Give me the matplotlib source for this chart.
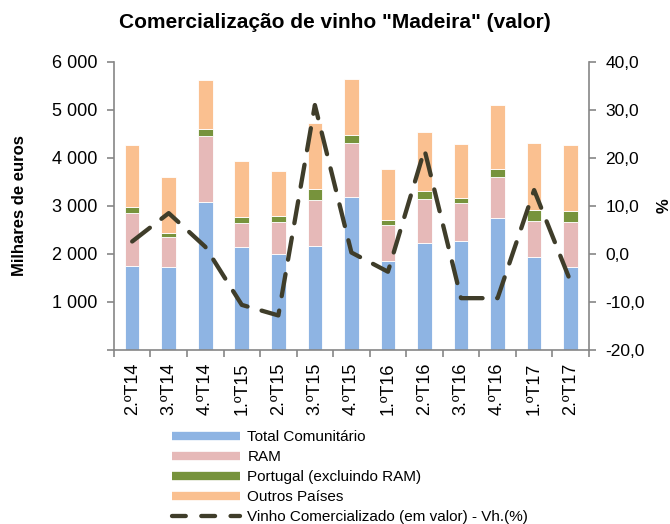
import matplotlib
matplotlib.use('Agg')
import matplotlib.pyplot as plt
from matplotlib.lines import Line2D
from matplotlib.ticker import FuncFormatter
import numpy as np

plt.rcParams['font.family'] = ['Liberation Sans', 'DejaVu Sans']

quarters = ['2.ºT14', '3.ºT14', '4.ºT14', '1.ºT15', '2.ºT15', '3.ºT15', '4.ºT15',
            '1.ºT16', '2.ºT16', '3.ºT16', '4.ºT16', '1.ºT17', '2.ºT17']
total_comunitario = [1750, 1735, 3075, 2150, 2005, 2170, 3190, 1845, 2220, 2260, 2740, 1945, 1720]
ram = [1110, 615, 1390, 505, 665, 950, 1125, 750, 930, 800, 870, 740, 950]
portugal = [125, 90, 145, 105, 120, 230, 160, 110, 165, 110, 165, 230, 215]
outros = [1290, 1170, 1020, 1170, 940, 1380, 1160, 1070, 1230, 1115, 1330, 1385, 1380]
var_homologa = [2.6, 8.5, 1.5, -10.6, -12.8, 31.0, 0.3, -3.7, 21.7, -9.2, -9.2, 13.3, -5.8]

c_blue = '#8EB4E3'
c_pink = '#E6B9B8'
c_green = '#77933C'
c_orange = '#FAC090'
c_line = '#3F3D2A'
c_axis = '#868686'

fig = plt.figure(figsize=(6.7, 5.24), dpi=100)
ax = fig.add_axes([0.170, 0.332, 0.709, 0.550])
ax2 = ax.twinx()

x = np.arange(len(quarters))
w = 0.4
bottom = np.zeros(len(quarters))
for vals, col in [(total_comunitario, c_blue), (ram, c_pink),
                  (portugal, c_green), (outros, c_orange)]:
    ax.bar(x, vals, w, bottom=bottom, color=col, edgecolor='white', linewidth=0.6, zorder=2)
    bottom += np.array(vals)

ax2.plot(x, var_homologa, color=c_line, lw=3.1, dashes=(5.2, 3.4),
         dash_capstyle='round', dash_joinstyle='round', zorder=3)

ax.set_xlim(-0.5, len(quarters) - 0.5)
ax.set_ylim(0, 6000)
ax.set_yticks(np.arange(0, 6001, 1000))
ax.yaxis.set_major_formatter(FuncFormatter(
    lambda v, p: '' if v == 0 else '{:,.0f}'.format(v).replace(',', ' ')))
ax2.set_ylim(-20, 40)
ax2.set_yticks(np.arange(-20, 41, 10))
ax2.yaxis.set_major_formatter(FuncFormatter(lambda v, p: '{:.1f}'.format(v).replace('.', ',')))

ax.set_xticks(np.arange(-0.5, len(quarters), 1.0))
ax.set_xticklabels([])
ax.set_xticks(x, minor=True)
ax.set_xticklabels(quarters, minor=True, rotation=90, fontsize=13)
ax.tick_params(axis='x', which='minor', length=0, pad=9)
ax.tick_params(axis='x', which='major', length=5, color=c_axis, width=1.2)
ax.tick_params(axis='y', length=5, color=c_axis, width=1.2, labelsize=13, pad=7)
ax2.tick_params(axis='y', length=5, color=c_axis, width=1.2, labelsize=12.5, pad=7)

for a in (ax, ax2):
    for s in a.spines.values():
        s.set_visible(False)
ax.spines['left'].set_visible(True)
ax.spines['bottom'].set_visible(True)
ax2.spines['right'].set_visible(True)
for s in (ax.spines['left'], ax.spines['bottom'], ax2.spines['right']):
    s.set_color(c_axis)
    s.set_linewidth(1.2)

ax.set_ylabel('Milhares de euros', fontsize=12, fontweight='bold', labelpad=18)
ax2.set_ylabel('%', fontsize=12, fontweight='bold', rotation=90, labelpad=8)
fig.suptitle('Comercialização de vinho "Madeira" (valor)', fontsize=15,
             fontweight='bold', x=0.5, y=0.975)

handles = [Line2D([], [], color=c_blue, lw=6, solid_capstyle='butt'),
           Line2D([], [], color=c_pink, lw=6, solid_capstyle='butt'),
           Line2D([], [], color=c_green, lw=6, solid_capstyle='butt'),
           Line2D([], [], color=c_orange, lw=6, solid_capstyle='butt'),
           Line2D([], [], color=c_line, lw=3.1, dashes=(3.2, 3.6), dash_capstyle='round')]
labels = ['Total Comunitário', 'RAM', 'Portugal (excluindo RAM)', 'Outros Países',
          'Vinho Comercializado (em valor) - Vh.(%)']
fig.legend(handles, labels, loc='upper left', bbox_to_anchor=(0.246, 0.194),
           frameon=False, fontsize=11, handlelength=4.45, handletextpad=0.45,
           labelspacing=0.4, borderpad=0)

fig.savefig('out.png', dpi=100)
